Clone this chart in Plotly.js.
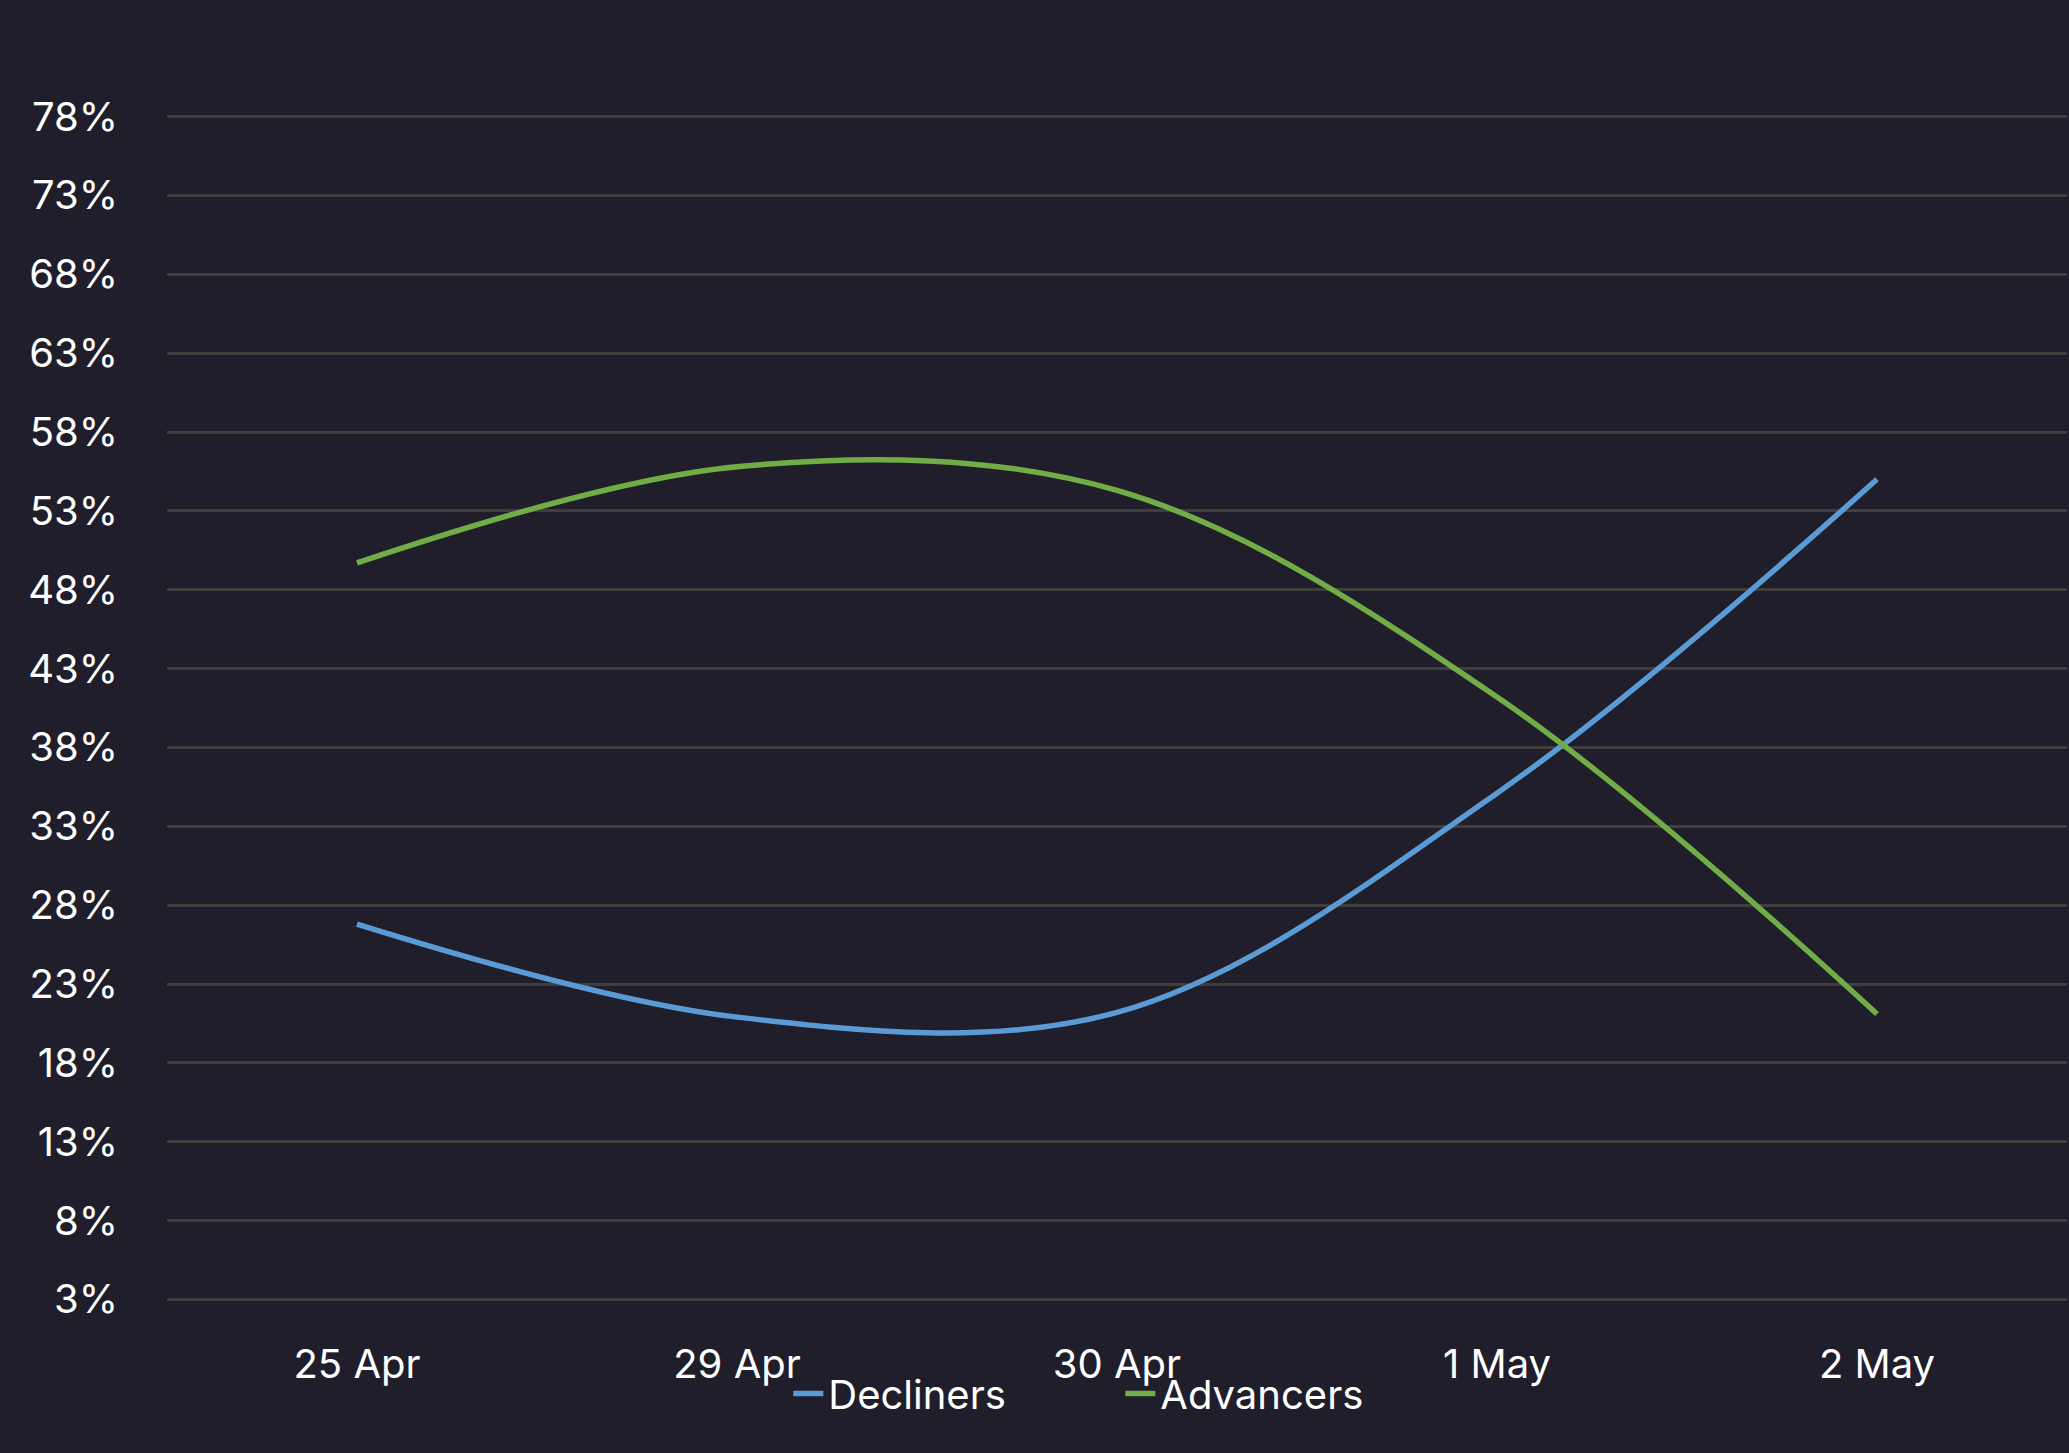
<!DOCTYPE html>
<html>
<head>
<meta charset="utf-8">
<script src="https://cdn.plot.ly/plotly-3.0.1.min.js"></script>
<style>
  html, body { margin: 0; padding: 0; background: #1f1e2a; }
  #advance-decline-chart { width: 2069px; height: 1453px; }
</style>
</head>
<body>
<div id="advance-decline-chart"></div>
<script>
const dates = ['25 Apr', '29 Apr', '30 Apr', '1 May', '2 May'];
const decliners = [26.8, 20.9, 21.2, 35.1, 55.0];
const advancers = [49.7, 55.8, 54.3, 41.2, 21.1];
const yTicks = [3, 8, 13, 18, 23, 28, 33, 38, 43, 48, 53, 58, 63, 68, 73, 78];

const textFont = { color: '#ffffff', family: 'Inter, Lato, sans-serif', size: 40 };

const trace1 = {
    x: dates, y: decliners,
    name: 'Decliners', type: 'scatter', mode: 'lines',
    line: { color: '#5b9bd5', width: 5.5, shape: 'spline', smoothing: 1 }
};

const trace2 = {
    x: dates, y: advancers,
    name: 'Advancers', type: 'scatter', mode: 'lines',
    line: { color: '#70ad47', width: 5.5, shape: 'spline', smoothing: 1 }
};

const layout = {
    width: 2069, height: 1453,
    paper_bgcolor: '#1f1e2a', plot_bgcolor: '#1f1e2a',
    margin: { l: 167, r: 2, t: 115, b: 152 },
    showlegend: true,
    legend: {
        orientation: 'h', x: 0.327, xanchor: 'left', y: -0.078, yanchor: 'middle',
        font: textFont,
        bgcolor: 'rgba(0,0,0,0)', entrywidth: 287
    },
    xaxis: {
        type: 'category',
        range: [-0.5, 4.5],
        showgrid: false, zeroline: false, showline: false,
        tickfont: textFont,
        ticklabelstandoff: 36
    },
    yaxis: {
        range: [2.9, 78.1],
        tickvals: yTicks,
        ticktext: yTicks.map(v => v + '%'),
        gridcolor: '#3f3e3d', gridwidth: 2.5,
        zeroline: false, showline: false,
        tickfont: textFont,
        ticklabelstandoff: 48
    }
};

Plotly.newPlot('advance-decline-chart', [trace1, trace2], layout, { displayModeBar: false });
</script>
</body>
</html>
